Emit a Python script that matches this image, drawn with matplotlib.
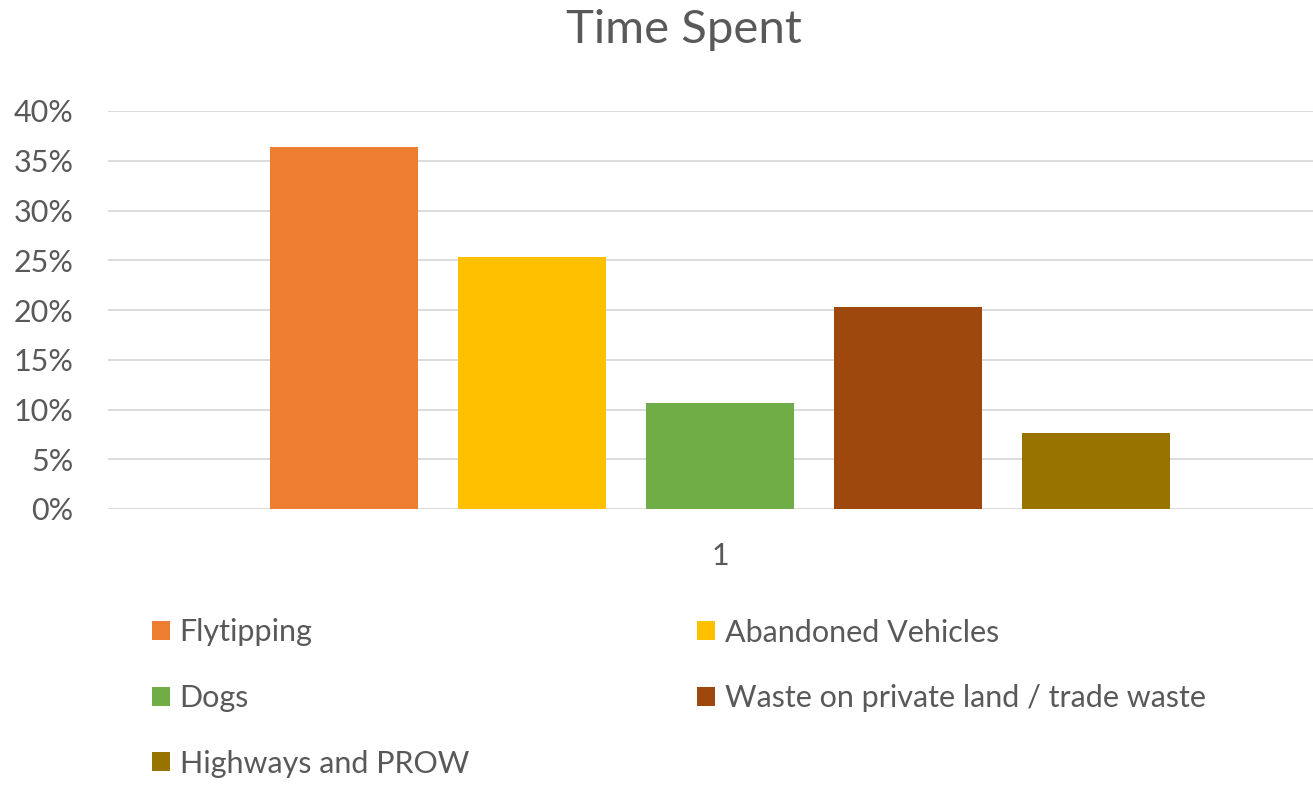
import matplotlib.pyplot as plt
from matplotlib.patches import Patch

# Data
categories = ['1']
series = ['Flytipping', 'Abandoned Vehicles', 'Dogs',
          'Waste on private land / trade waste', 'Highways and PROW']
values = [0.364, 0.253, 0.107, 0.203, 0.076]
colors = ['#ED7D31', '#FFC000', '#70AD47', '#9E480E', '#997300']

plt.rcParams['font.family'] = ['Lato', 'DejaVu Sans']
text_color = '#595959'

fig = plt.figure(figsize=(13.13, 7.85), dpi=100)
ax = fig.add_axes([108 / 1313, 1 - 509 / 785, 1 - 108 / 1313, (509 - 111) / 785])

step = 0.2
width = 0.157
for i, (name, v, c) in enumerate(zip(series, values, colors)):
    ax.bar(0 + (i - 2) * step, v, width=width, color=c, label=name, zorder=3)

ax.set_xlim(-0.651, 0.631)
ax.set_ylim(0, 0.4)
ax.set_yticks([i / 100 for i in range(0, 41, 5)])
ax.set_yticklabels([f'{i}%' for i in range(0, 41, 5)])
ax.set_xticks([0])
ax.set_xticklabels(categories)
ax.tick_params(axis='both', length=0, colors=text_color, labelsize=22)
ax.tick_params(axis='y', pad=25)
ax.tick_params(axis='x', pad=24)
ax.grid(axis='y', color='#D9D9D9', linewidth=1.3, zorder=0)
for s in ax.spines.values():
    s.set_visible(False)

fig.suptitle('Time Spent', x=684 / 1313, y=1 - 30 / 785, va='center',
             fontsize=34, color=text_color)

# Legend: two columns, filled column-wise
order = [0, 2, 4, 1, 3]
handles = [Patch(facecolor=colors[i], label=series[i]) for i in order]
fig.legend(handles=handles, ncol=2, loc='upper left',
           bbox_to_anchor=(124.5 / 1313, 1 - 591 / 785),
           frameon=False, fontsize=22, labelcolor=text_color,
           handlelength=0.59, handleheight=0.59, handletextpad=0.31,
           columnspacing=7.47, labelspacing=1.23)

fig.savefig('out.png', dpi=100)
